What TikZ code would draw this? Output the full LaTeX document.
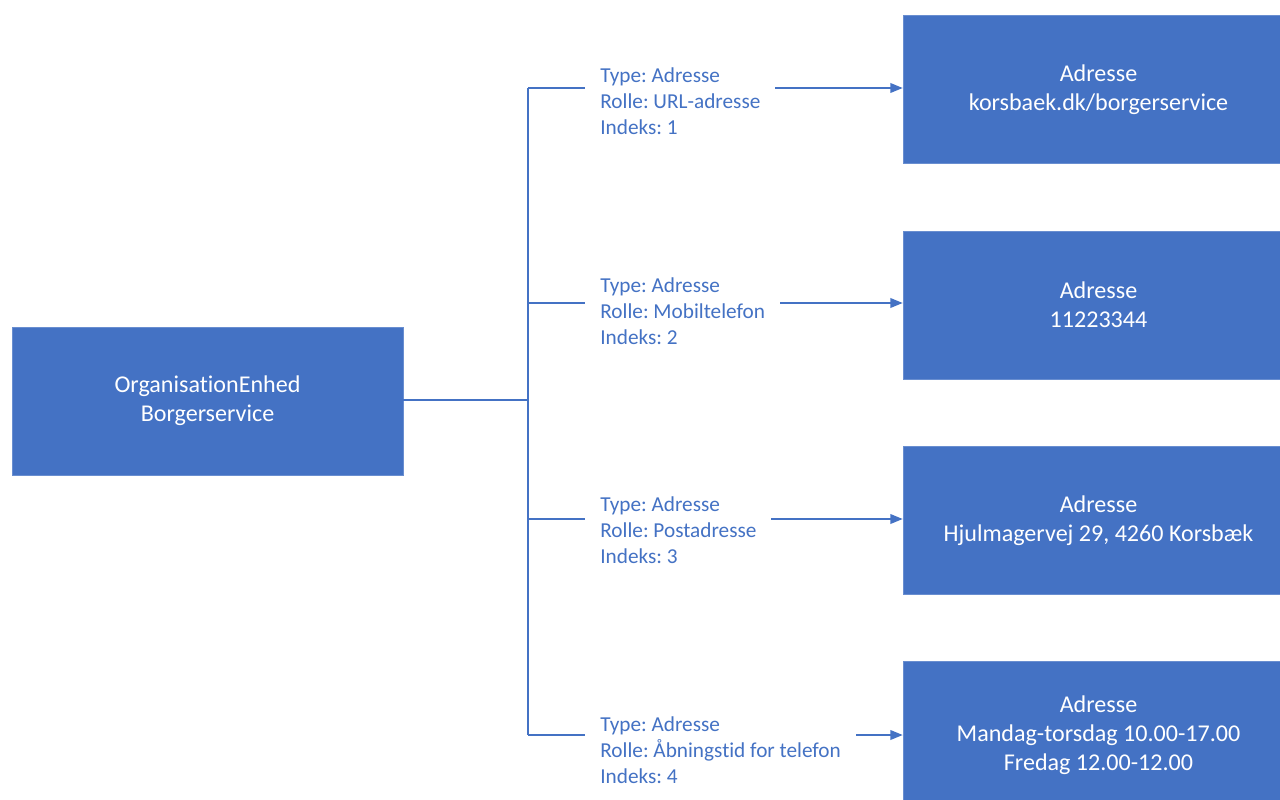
\documentclass[tikz,border=0pt]{standalone}
\usepackage{fontspec}
\setmainfont{Carlito}[Ligatures=NoCommon]
\frenchspacing
\usetikzlibrary{arrows.meta}

\definecolor{officeblue}{HTML}{4472C4}

\def\boxWidth{7.82cm}
\def\boxHeight{2.96cm}

\tikzset{
    enhedbox/.style={fill=officeblue, draw=officeblue!80!white, line width=0.4pt,
        text=white, align=center, minimum width=\boxWidth, minimum height=\boxHeight,
        inner sep=0pt, font=\fontsize{13.7}{16.4}\selectfont},
    linje/.style={draw=officeblue, line width=0.85pt},
    pil/.style={linje, -{Triangle[length=7pt,width=5.5pt]}},
    rollelabel/.style={fill=white, text=officeblue, align=left, anchor=west,
        inner xsep=0.3cm, inner ysep=2pt, font=\fontsize{12.1}{14.7}\selectfont}
}

\begin{document}
\begin{tikzpicture}[x=0.02cm,y=-0.02cm]
            \useasboundingbox (0,0) rectangle (1280,800);
            \clip (0,0) rectangle (1280,800);

            % enheden til venstre
            \node [enhedbox] (enhed) at (207.5,401) {OrganisationEnhed\\Borgerservice};

            % adresserne til hoejre
            \node [enhedbox] (adr1) at (1098.5,89.5) {Adresse\\korsbaek.dk/borgerservice};
            \node [enhedbox] (adr2) at (1098.5,305) {Adresse\\11223344};
            \node [enhedbox] (adr3) at (1098.5,520.5) {Adresse\\Hjulmagervej 29, 4260 Korsbæk};
            \node [enhedbox] (adr4) at (1098.5,735.5) {Adresse\\Mandag-torsdag 10.00-17.00\\Fredag 12.00-12.00};

            \foreach \n/\y in {1/88,2/303,3/519,4/735}{%
                    \coordinate (gren\n) at (528,\y);
                }

            \coordinate (knude) at (528,400);
            \draw [linje] (enhed.east |- knude) -- (knude);
            \draw [linje] (gren1) -- (gren4);

            \foreach \n in {1,...,4}{%
                    \draw [pil] (gren\n) -- (gren\n -| adr\n.west);
                }

            \node [rollelabel] (rolle1) at (585,101) {Type: Adresse\\Rolle: URL-adresse\\Indeks: 1};
            \node [rollelabel] (rolle2) at (585,311) {Type: Adresse\\Rolle: Mobiltelefon\\Indeks: 2};
            \node [rollelabel] (rolle3) at (585,530) {Type: Adresse\\Rolle: Postadresse\\Indeks: 3};
            \node [rollelabel] (rolle4) at (585,750) {Type: Adresse\\Rolle: Åbningstid for telefon\\Indeks: 4};

        \end{tikzpicture}
\end{document}
